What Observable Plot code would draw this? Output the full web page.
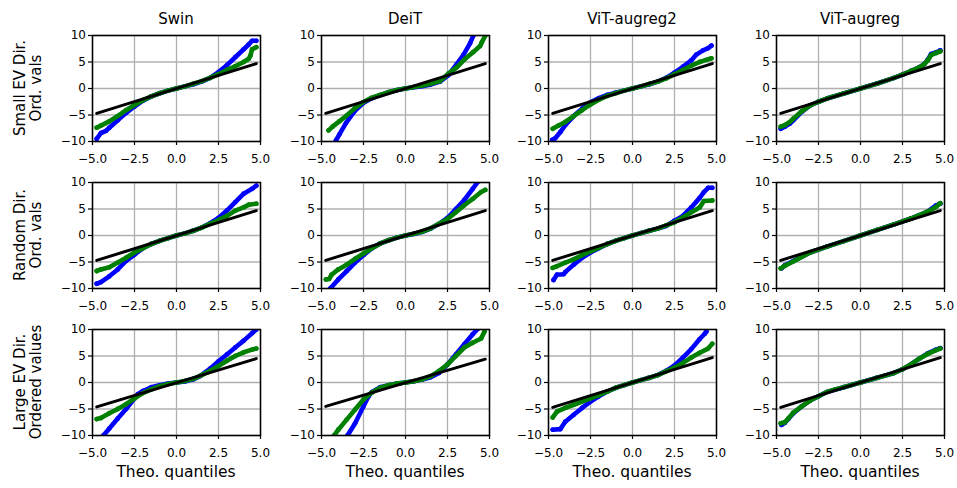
<!DOCTYPE html>
<html>
<head>
<meta charset="utf-8">
<script src="https://cdn.jsdelivr.net/npm/d3@7"></script>
<script src="https://cdn.jsdelivr.net/npm/@observablehq/plot@0.6"></script>
<style>
  html, body { margin: 0; padding: 0; background: white; }
  #root { position: relative; width: 957px; height: 488px; background: white; font-family: "DejaVu Sans", sans-serif; color: black; overflow: hidden; }
  .lbl { position: absolute; transform: translate(-50%, -50%); white-space: pre; text-align: center; font-size: 15px; line-height: 15px; }
  .xl { font-size: 15.5px; line-height: 15.5px; }
  .rot { position: absolute; transform: translate(-50%, -50%) rotate(-90deg); white-space: pre; text-align: center; font-size: 15px; line-height: 16px; }
  .pl { position: absolute; }
</style>
</head>
<body>
<div id="root"></div>
<script>
// ---------- labels & ticks ----------
const models = ["Swin", "DeiT", "ViT-augreg2", "ViT-augreg"];
const rowLabels = [["Small EV Dir.", "Ord. vals"], ["Random Dir.", "Ord. vals"], ["Large EV Dir.", "Ordered values"]];
const xLabel = "Theo. quantiles";
const xTicks = [-5, -2.5, 0, 2.5, 5];
const yTicks = [-10, -5, 0, 5, 10];

// ---------- row 1: Small EV direction ----------
const smallSwinBlue = [[-4.75,-9.5],[-4.5,-8.4],[-4.2,-8.0],[-4,-7.4],[-3.5,-6.0],[-3,-4.6],[-2.5,-3.4],[-2,-2.3],[-1.5,-1.5],[-1,-0.9],[-0.5,-0.4],[0,0],[0.5,0.4],[1,0.8],[1.5,1.3],[2,2.0],[2.5,3.1],[3,4.4],[3.5,5.9],[4,7.4],[4.3,8.3],[4.5,9.0],[4.75,9.0]];
const smallSwinGreen = [[-4.75,-7.4],[-4.5,-7.0],[-4,-6.2],[-3.5,-5.2],[-3,-4.1],[-2.5,-3.1],[-2,-2.2],[-1.5,-1.5],[-1,-0.9],[-0.5,-0.4],[0,0],[0.5,0.4],[1,0.9],[1.5,1.4],[2,2.0],[2.5,2.7],[3,3.5],[3.5,4.2],[4,5.0],[4.3,5.6],[4.4,6.2],[4.5,7.4],[4.75,7.8]];
const smallDeitBlue = [[-4.2,-10.4],[-4.14,-9.8],[-3.94,-8.7],[-3.54,-6.5],[-3.04,-4.3],[-2.54,-2.8],[-2.05,-1.9],[-1.55,-1.3],[-1,-0.7],[-0.5,-0.3],[0,0],[0.5,0.25],[1,0.45],[1.45,0.7],[2.05,1.3],[2.55,2.5],[3.05,4.6],[3.44,6.3],[3.84,8.5],[4.04,10],[4.2,11]];
const smallDeitGreen = [[-4.58,-7.9],[-4.34,-7.2],[-3.94,-6.2],[-3.54,-5.2],[-3.04,-3.8],[-2.54,-2.6],[-2.05,-1.8],[-1.5,-1.2],[-1,-0.7],[-0.5,-0.3],[0,0],[0.5,0.3],[1,0.55],[1.5,0.9],[2.05,1.4],[2.55,2.8],[3.05,4.0],[3.55,5.6],[4.04,6.9],[4.44,8.0],[4.54,8.7],[4.74,9.9]];
const smallAug2Blue = [[-4.78,-9.7],[-4.6,-9.4],[-4.29,-8.2],[-4.0,-6.9],[-3.5,-5.2],[-3.0,-3.8],[-2.5,-2.6],[-2.0,-1.8],[-1.5,-1.2],[-1,-0.8],[-0.5,-0.4],[0,0],[0.5,0.4],[1,0.8],[1.5,1.3],[2,2.0],[2.5,3.0],[3.0,4.1],[3.5,5.3],[3.8,6.4],[4.2,7.2],[4.5,7.6],[4.7,8.1]];
const smallAug2Green = [[-4.75,-7.6],[-4.4,-7.0],[-4.0,-6.3],[-3.5,-5.2],[-3.0,-4.1],[-2.5,-3.0],[-2.0,-2.1],[-1.5,-1.4],[-1,-0.9],[-0.5,-0.4],[0,0],[0.5,0.4],[1,0.85],[1.5,1.3],[2,1.9],[2.5,2.7],[3.0,3.5],[3.5,4.3],[4.0,5.0],[4.4,5.4],[4.7,5.7]];
const smallAugBlue = [[-4.75,-7.6],[-4.5,-7.2],[-4.2,-6.6],[-4,-6.0],[-3.5,-4.4],[-3,-3.2],[-2.5,-2.5],[-2,-1.9],[-1,-0.95],[0,0],[1,0.95],[2,2.0],[2.5,2.6],[3,3.3],[3.5,4.0],[3.8,4.6],[4,5.4],[4.2,6.5],[4.5,6.8],[4.75,7.2]];
const smallAugGreen = [[-4.75,-7.2],[-4.5,-6.9],[-4.2,-6.3],[-4,-5.7],[-3.5,-4.3],[-3,-3.2],[-2.5,-2.5],[-2,-1.9],[-1,-0.95],[0,0],[1,0.95],[2,2.0],[2.5,2.6],[3,3.3],[3.5,4.0],[3.8,4.6],[4,5.3],[4.2,6.3],[4.5,6.7],[4.75,7.0]];

// ---------- row 2: Random direction ----------
const randSwinBlue = [[-4.75,-9.1],[-4.5,-8.8],[-4,-7.7],[-3.5,-6.4],[-3,-4.8],[-2.5,-3.6],[-2,-2.4],[-1.5,-1.6],[-1,-1.0],[-0.5,-0.5],[0,0],[0.5,0.4],[1,0.9],[1.5,1.5],[2,2.3],[2.5,3.3],[3,4.7],[3.5,6.3],[4,7.9],[4.5,8.8],[4.75,9.4]];
const randSwinGreen = [[-4.75,-6.7],[-4.5,-6.4],[-4,-6.0],[-3.5,-5.1],[-3,-4.2],[-2.5,-3.2],[-2,-2.4],[-1.5,-1.6],[-1,-1.0],[-0.5,-0.5],[0,0],[0.5,0.4],[1,0.9],[1.5,1.5],[2,2.2],[2.5,2.9],[3,3.7],[3.5,4.7],[4,5.3],[4.3,5.8],[4.75,6.0]];
const randDeitBlue = [[-4.55,-10.5],[-4.48,-10.0],[-4,-8.3],[-3.5,-6.7],[-3,-5.1],[-2.5,-3.7],[-2,-2.4],[-1.5,-1.5],[-1,-0.9],[-0.5,-0.4],[0,0],[0.5,0.3],[1,0.7],[1.5,1.3],[2,2.2],[2.5,3.3],[3,5.0],[3.5,6.7],[4,8.8],[4.3,10.1],[4.4,10.6]];
const randDeitGreen = [[-4.74,-8.3],[-4.55,-8.2],[-4.4,-7.4],[-4,-6.4],[-3.5,-5.5],[-3,-4.4],[-2.5,-3.4],[-2,-2.4],[-1.5,-1.5],[-1,-0.9],[-0.5,-0.4],[0,0],[0.5,0.35],[1,0.75],[1.5,1.35],[2,2.2],[2.5,3.1],[3,4.4],[3.5,5.7],[4,6.9],[4.5,8.2],[4.75,8.6]];
const randAug2Blue = [[-4.7,-8.4],[-4.5,-7.4],[-4.1,-7.3],[-4,-6.9],[-3.5,-5.5],[-3,-4.2],[-2.5,-3.2],[-2,-2.4],[-1.5,-1.6],[-1,-1.0],[-0.5,-0.5],[0,0],[0.5,0.45],[1,0.9],[1.5,1.3],[2,1.8],[2.5,2.8],[3,3.7],[3.5,5.3],[4,7.1],[4.25,8.2],[4.5,9.0],[4.75,9.0]];
const randAug2Green = [[-4.75,-6.1],[-4.5,-5.8],[-4,-5.1],[-3.5,-4.5],[-3,-3.7],[-2.5,-3.0],[-2,-2.3],[-1.5,-1.6],[-1,-1.0],[-0.5,-0.5],[0,0],[0.5,0.45],[1,0.9],[1.5,1.3],[2,1.9],[2.5,2.5],[3,3.4],[3.5,4.4],[4,5.3],[4.25,6.5],[4.75,6.6]];
const randAugBlue = [[-4.7,-6.2],[-4.5,-5.6],[-4,-4.8],[-3,-3.2],[-2,-2.1],[-1,-1.05],[0,0],[1,1.05],[2,2.1],[3,3.2],[4,4.5],[4.5,5.7],[4.75,6.0]];
const randAugGreen = [[-4.75,-6.2],[-4.5,-5.7],[-4,-4.9],[-3,-3.2],[-2,-2.1],[-1,-1.05],[0,0],[1,1.05],[2,2.1],[3,3.2],[4,4.5],[4.5,5.4],[4.75,6.1]];

// ---------- row 3: Large EV direction ----------
const largeSwinBlue = [[-4.45,-10.6],[-4.35,-10.0],[-4,-8.7],[-3.5,-6.8],[-3,-5.0],[-2.5,-3.0],[-2.3,-2.2],[-2,-1.6],[-1.5,-0.9],[-1,-0.5],[-0.5,-0.2],[0,0],[0.5,0.2],[1,0.6],[1.4,1.2],[2,2.6],[2.5,4.0],[3,5.3],[3.5,6.6],[4,7.9],[4.5,9.3],[4.75,10.0]];
const largeSwinGreen = [[-4.75,-6.9],[-4.5,-6.7],[-4,-5.8],[-3.5,-5.0],[-3,-4.1],[-2.5,-3.0],[-2,-2.0],[-1.5,-1.3],[-1,-0.7],[-0.5,-0.3],[0,0],[0.5,0.3],[1,0.7],[1.5,1.4],[2,2.2],[2.5,3.1],[3,4.1],[3.5,5.0],[4,5.7],[4.5,6.2],[4.75,6.4]];
const largeDeitBlue = [[-3.55,-10.6],[-3.45,-10.0],[-3,-7.7],[-2.5,-4.5],[-2.2,-2.6],[-2,-1.8],[-1.5,-0.9],[-1,-0.5],[-0.5,-0.2],[0,0],[0.5,0.25],[1,0.55],[1.5,1.0],[2,1.8],[2.5,3.4],[3,5.3],[3.5,7.2],[4,9.1],[4.3,10.1],[4.4,10.6]];
const largeDeitGreen = [[-4.35,-10.6],[-4.25,-10.0],[-4,-8.9],[-3.5,-7.0],[-3,-5.1],[-2.5,-3.2],[-2,-1.9],[-1.5,-1.0],[-1,-0.5],[-0.5,-0.2],[0,0],[0.5,0.25],[1,0.6],[1.5,1.2],[2,2.2],[2.5,3.4],[3,5.0],[3.5,6.6],[4,7.5],[4.5,8.3],[4.7,9.6]];
const largeAug2Blue = [[-4.75,-8.9],[-4.3,-8.8],[-4,-7.4],[-3.5,-6.1],[-3,-4.8],[-2.5,-3.6],[-2,-2.6],[-1.5,-1.7],[-1,-1.0],[-0.5,-0.5],[0,0],[0.5,0.45],[1,0.9],[1.5,1.4],[2,2.2],[2.5,3.2],[3,4.7],[3.5,6.3],[4,8.2],[4.3,9.2],[4.4,9.6]];
const largeAug2Green = [[-4.75,-6.6],[-4.5,-5.5],[-4,-4.8],[-3.5,-4.2],[-3,-3.6],[-2.5,-3.0],[-2,-2.4],[-1.5,-1.7],[-1,-1.0],[-0.5,-0.5],[0,0],[0.5,0.45],[1,0.9],[1.5,1.4],[2,2.1],[2.5,2.8],[3,3.7],[3.5,4.7],[4,5.6],[4.5,6.4],[4.75,7.3]];
const largeAugBlue = [[-4.7,-8.0],[-4.5,-7.6],[-4.3,-6.9],[-4,-5.8],[-3.5,-4.5],[-3,-3.4],[-2.5,-2.6],[-2,-1.8],[-1,-0.9],[0,0],[1,0.9],[2,1.8],[2.5,2.5],[3,3.4],[3.5,4.5],[4,5.5],[4.5,6.2],[4.75,6.5]];
const largeAugGreen = [[-4.75,-7.7],[-4.5,-7.5],[-4.3,-6.8],[-4,-5.7],[-3.5,-4.5],[-3,-3.4],[-2.5,-2.6],[-2,-1.8],[-1.5,-1.3],[-1,-0.9],[-0.5,-0.45],[0,0],[0.5,0.45],[1,0.9],[1.5,1.35],[2,1.8],[2.5,2.5],[3,3.4],[3.5,4.5],[4,5.4],[4.5,6.1],[4.75,6.4]];

// ---------- reference lines (endpoints) ----------
const refSmall = [[[-4.75,-4.7],[4.75,4.7]], [[-4.75,-4.7],[4.75,4.7]], [[-4.75,-4.7],[4.75,4.7]], [[-4.75,-4.7],[4.75,4.7]]];
const refRandom = [[[-4.75,-4.7],[4.75,4.7]], [[-4.75,-4.7],[4.75,4.7]], [[-4.75,-4.7],[4.75,4.7]], [[-4.75,-4.7],[4.75,4.7]]];
const refLarge = [[[-4.75,-4.6],[4.75,4.5]], [[-4.75,-4.5],[4.75,4.4]], [[-4.75,-4.7],[4.75,4.7]], [[-4.75,-4.7],[4.75,4.7]]];

// ---------- assemble ----------
const blueRows = [
  [smallSwinBlue, smallDeitBlue, smallAug2Blue, smallAugBlue],
  [randSwinBlue, randDeitBlue, randAug2Blue, randAugBlue],
  [largeSwinBlue, largeDeitBlue, largeAug2Blue, largeAugBlue]
];
const greenRows = [
  [smallSwinGreen, smallDeitGreen, smallAug2Green, smallAugGreen],
  [randSwinGreen, randDeitGreen, randAug2Green, randAugGreen],
  [largeSwinGreen, largeDeitGreen, largeAug2Green, largeAugGreen]
];
const refRows = [refSmall, refRandom, refLarge];

// layout
const colLeft = [92, 321, 548, 776];
const rowTop = [35, 182, 329];
const FW = 168, FH = 106;
const ML = 45, MR = 12, MT = 8, MB = 25;

const root = document.getElementById("root");
const X = d => d[0], Y = d => d[1];

function panel(blue, green, ref) {
  return Plot.plot({
    width: FW + ML + MR,
    height: FH + MT + MB,
    marginLeft: ML, marginRight: MR, marginTop: MT, marginBottom: MB,
    x: {domain: [-5, 5]},
    y: {domain: [-10, 10]},
    style: {fontFamily: "DejaVu Sans", fontSize: "12px", color: "black", background: "transparent", overflow: "visible"},
    marks: [
      Plot.gridX(xTicks, {stroke: "#b0b0b0", strokeOpacity: 1, strokeWidth: 1.3}),
      Plot.gridY(yTicks, {stroke: "#b0b0b0", strokeOpacity: 1, strokeWidth: 1.3}),
      Plot.line(blue, {x: X, y: Y, stroke: "blue", strokeWidth: 4.6, strokeLinecap: "round", strokeLinejoin: "round", clip: true}),
      Plot.dot(blue, {x: X, y: Y, r: 2.4, fill: "blue", clip: true}),
      Plot.line(green, {x: X, y: Y, stroke: "green", strokeWidth: 4.6, strokeLinecap: "round", strokeLinejoin: "round", clip: true}),
      Plot.dot(green, {x: X, y: Y, r: 2.4, fill: "green", clip: true}),
      Plot.line(ref, {x: X, y: Y, stroke: "black", strokeWidth: 3}),
      Plot.frame({stroke: "black", strokeWidth: 1.5}),
      Plot.axisX(xTicks, {tickSize: 4, tickPadding: 8.5, strokeWidth: 1.2, tickFormat: d3.format(".1f"), label: null}),
      Plot.axisY(yTicks, {tickSize: 4, tickPadding: 2.5, strokeWidth: 1.2, tickFormat: d3.format("d"), label: null})
    ]
  });
}

for (let r = 0; r < 3; r++) {
  for (let c = 0; c < 4; c++) {
    const svg = panel(blueRows[r][c], greenRows[r][c], refRows[r][c]);
    svg.classList.add("pl");
    svg.style.left = (colLeft[c] - ML) + "px";
    svg.style.top = (rowTop[r] - MT) + "px";
    root.appendChild(svg);
  }
}

function addText(cls, text, cx, cy) {
  const d = document.createElement("div");
  d.className = cls;
  d.textContent = text;
  d.style.left = cx + "px";
  d.style.top = cy + "px";
  root.appendChild(d);
}

models.forEach((m, c) => addText("lbl", m, colLeft[c] + FW / 2, 18.5));
models.forEach((m, c) => addText("lbl xl", xLabel, colLeft[c] + FW / 2, 473));
rowLabels.forEach((lines, r) => addText("rot", lines.join("\n"), 27.5, rowTop[r] + FH / 2));
</script>
</body>
</html>
